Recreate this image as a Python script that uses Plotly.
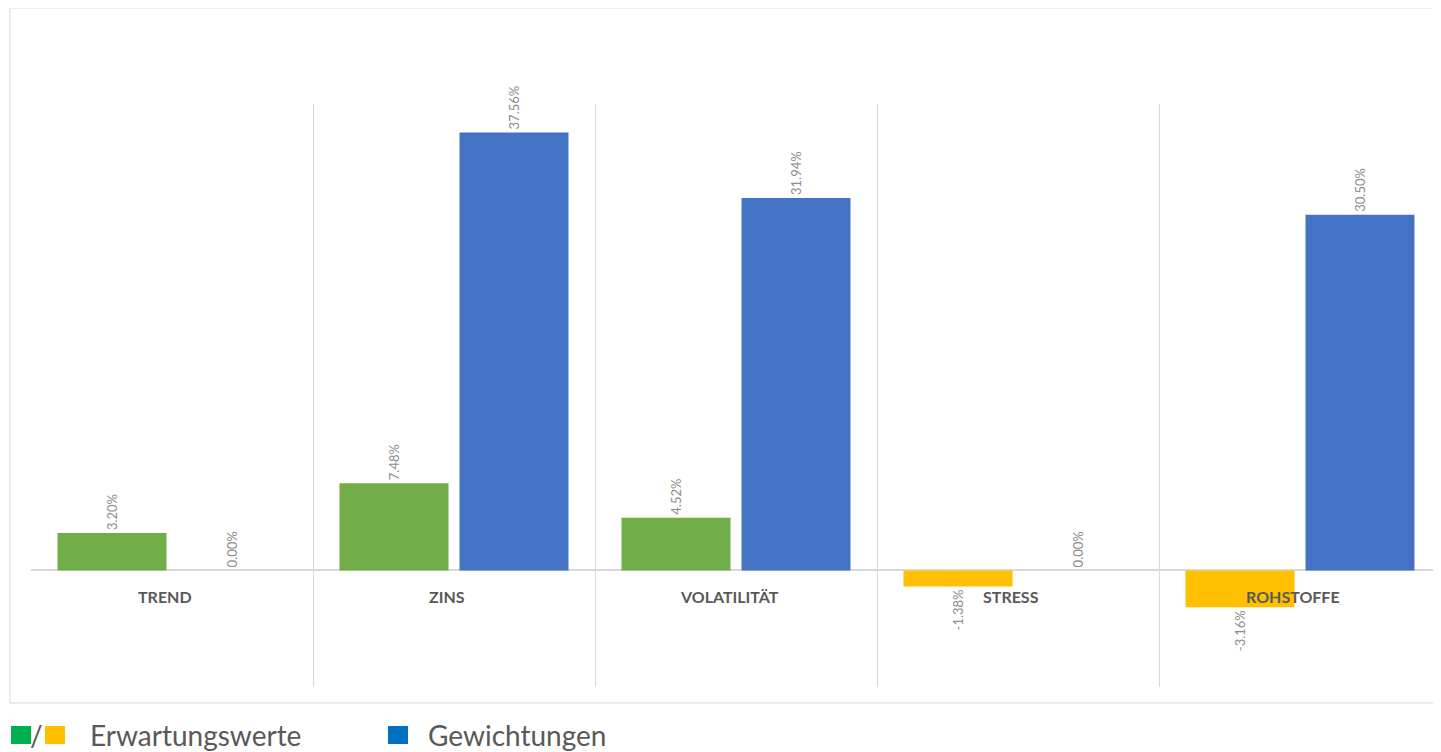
import plotly.graph_objects as go

categories = ["TREND", "ZINS", "VOLATILITÄT", "STRESS", "ROHSTOFFE"]
erwartungswerte = [3.20, 7.48, 4.52, -1.38, -3.16]
gewichtungen = [0.00, 37.56, 31.94, 0.00, 30.50]

GREEN = "#70AD47"
YELLOW = "#FFC000"
BLUE = "#4472C4"
FONT = "Lato, 'Open Sans', sans-serif"

erw_colors = [GREEN if v >= 0 else YELLOW for v in erwartungswerte]

fig = go.Figure()
fig.add_trace(go.Bar(
    x=categories, y=erwartungswerte, name="Erwartungswerte",
    marker=dict(color=erw_colors, line=dict(width=0)),
    texttemplate="%{y:.2f}%", textposition="outside", textangle=-90,
    textfont=dict(size=13, color="#8c8c8c", family=FONT),
    cliponaxis=False,
))
fig.add_trace(go.Bar(
    x=categories, y=gewichtungen, name="Gewichtungen",
    marker=dict(color=BLUE, line=dict(width=0)),
    texttemplate="%{y:.2f}%", textposition="outside", textangle=-90,
    textfont=dict(size=13, color="#8c8c8c", family=FONT),
    cliponaxis=False,
))

# category labels just below the zero line
for c in categories:
    fig.add_annotation(x=c, y=0, xref="x", yref="y", text="<b>%s</b>" % c,
                       showarrow=False, yanchor="middle", yshift=-26, xshift=-7,
                       font=dict(size=16, color="#595959", family=FONT))

OFF = 8  # browser body margin
W, H = 1441 - OFF, 752 - OFF
L, T = 31 - OFF, 104 - OFF
R, B = 0, 752 - 687
pw, ph = W - L - R, H - T - B

def px(x):
    return (x - OFF - L) / pw

def py(y):
    return (H - B - (y - OFF)) / ph

# outer border
fig.add_shape(type="rect", xref="paper", yref="paper",
              x0=px(10), x1=px(1440), y0=py(703), y1=py(8),
              line=dict(color="#d9d9d9", width=1), layer="below")

# custom legend
def square(x0, color):
    fig.add_shape(type="rect", xref="paper", yref="paper",
                  x0=px(x0), x1=px(x0 + 20), y0=py(744), y1=py(726),
                  fillcolor=color, line=dict(width=0))

square(11, "#00B050")
square(45, "#FFC000")
square(388, "#0070C0")
fig.add_annotation(xref="paper", yref="paper", x=px(36), y=py(735),
                   text="/", showarrow=False, xanchor="center", yanchor="middle",
                   font=dict(size=28, color="#595959", family=FONT))
fig.add_annotation(xref="paper", yref="paper", x=px(88), y=py(735),
                   text="Erwartungswerte", showarrow=False, xanchor="left", yanchor="middle",
                   font=dict(size=28, color="#595959", family=FONT))
fig.add_annotation(xref="paper", yref="paper", x=px(426), y=py(735),
                   text="Gewichtungen", showarrow=False, xanchor="left", yanchor="middle",
                   font=dict(size=28, color="#595959", family=FONT))

fig.update_layout(
    width=W, height=H,
    margin=dict(l=L, r=R, t=T, b=B, pad=0),
    paper_bgcolor="white", plot_bgcolor="white",
    barmode="group", bargap=0.149, bargroupgap=0.0917,
    showlegend=False,
    font=dict(family=FONT),
    xaxis=dict(type="category", range=[-0.5, 4.5], tickson="boundaries",
               showgrid=True, gridcolor="#d9d9d9", gridwidth=1,
               showticklabels=False, ticks="", showline=False, zeroline=False),
    yaxis=dict(range=[-10, 40], showgrid=False, showticklabels=False,
               zeroline=True, zerolinecolor="#d9d9d9", zerolinewidth=1.5,
               showline=False, ticks=""),
)

fig.write_html("out.html")
